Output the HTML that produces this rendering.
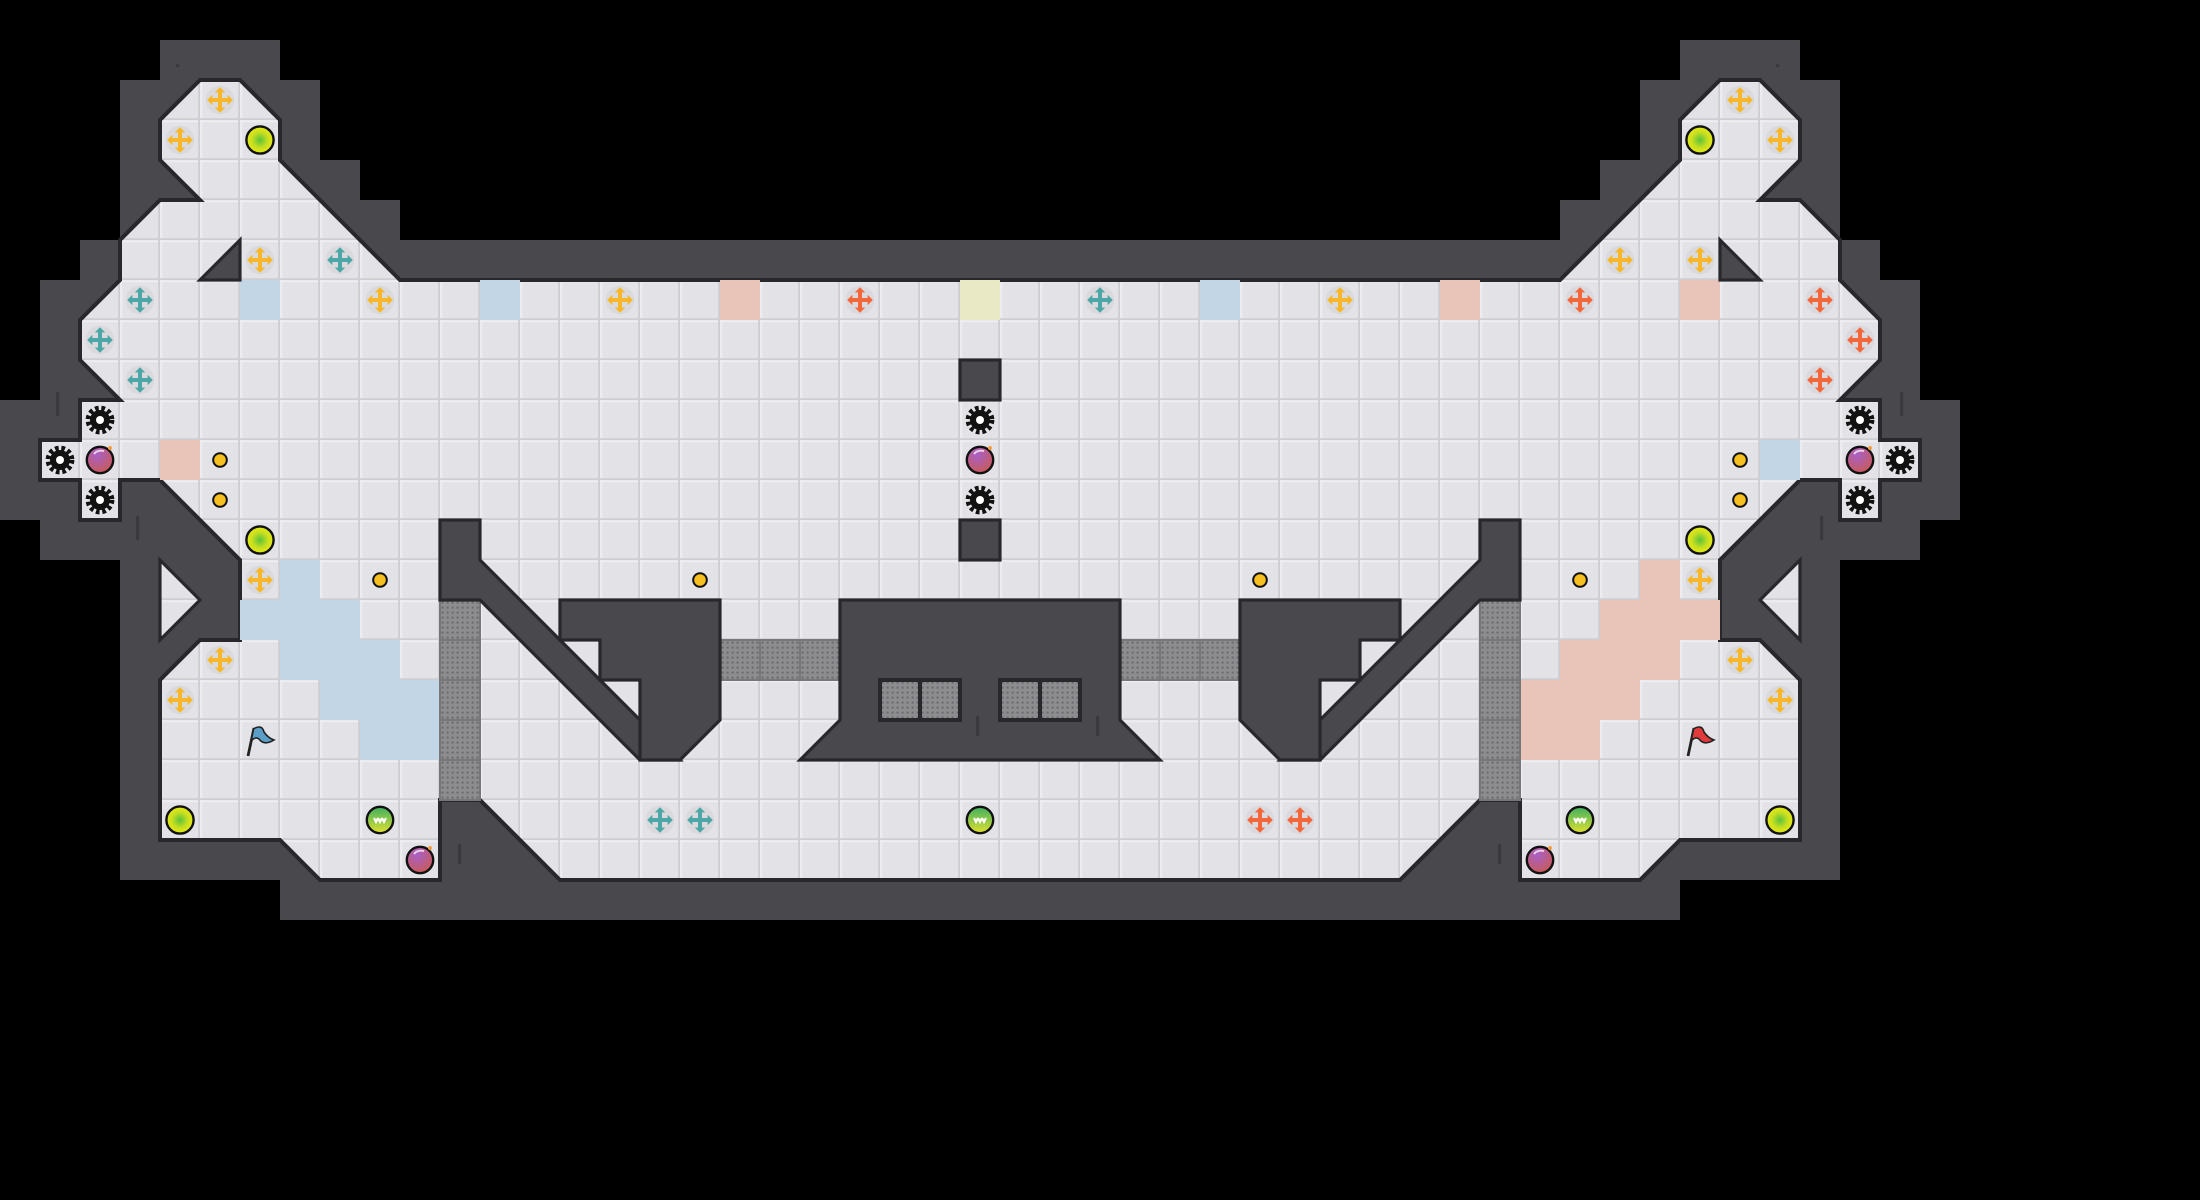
<!DOCTYPE html>
<html><head><meta charset="utf-8"><style>html,body{margin:0;padding:0;background:#000;}svg{display:block;}</style></head>
<body>
<svg xmlns="http://www.w3.org/2000/svg" width="2200" height="1200" viewBox="0 0 55 30">
<defs>
<pattern id="fl" width="1" height="1" patternUnits="userSpaceOnUse">
<rect width="1" height="1" fill="#e3e3e7"/>
<path d="M0 .03H1M.03 0V1" stroke="#eeeef1" stroke-width=".05"/>
<path d="M0 .98H1M.98 0V1" stroke="#cdcdd2" stroke-width=".05"/>
</pattern>
<pattern id="gt" width=".125" height=".125" patternUnits="userSpaceOnUse">
<rect width=".125" height=".125" fill="#8d8d90"/>
<rect x=".04" y=".04" width=".05" height=".05" fill="#6a6a6e"/>
</pattern>
<radialGradient id="gp" cx=".5" cy=".5" r=".5"><stop offset="0" stop-color="#5fc23a"/><stop offset=".6" stop-color="#c8e020"/><stop offset="1" stop-color="#e8ea10"/></radialGradient>
<radialGradient id="bm" cx=".4" cy=".3" r=".7"><stop offset="0" stop-color="#a860c8"/><stop offset="1" stop-color="#c85a5a"/></radialGradient>
<linearGradient id="tt" x1="0" y1="0" x2="0" y2="1"><stop offset="0" stop-color="#3fb060"/><stop offset="1" stop-color="#e0e030"/></linearGradient>
<g id="bp"><circle r=".36" fill="#d9d9de"/><path d="M-.32 0L-.19-.13V-.05H-.05V-.19H-.13L0-.32L.13-.19H.05V-.05H.19V-.13L.32 0L.19 .13V.05H.05V.19H.13L0 .32L-.13 .19H-.05V.05H-.19V.13Z"/></g>
<g id="pu"><circle r=".34" fill="url(#gp)" stroke="#111" stroke-width=".06"/></g>
<g id="bo"><circle r=".33" fill="url(#bm)" stroke="#111" stroke-width=".06"/><path d="M-.15-.15A.22 .22 0 0 1 .1-.22" stroke="#fff" stroke-width=".05" fill="none" opacity=".7"/><circle cx=".25" cy="-.3" r=".05" fill="#f0a040"/></g>
<g id="sp"><circle r=".25" fill="#111"/><circle r=".3" fill="none" stroke="#111" stroke-width=".12" stroke-dasharray=".09 .07"/><circle r=".1" fill="#fff"/></g>
<g id="dt"><circle r=".17" fill="#f5c020" stroke="#111" stroke-width=".05"/></g>
<g id="tb"><circle r=".33" fill="url(#tt)" stroke="#111" stroke-width=".06"/><path d="M-.15-.05L-.1 .05L-.05-.05M-.05-.05L0 .05L.05-.05M.05-.05L.1 .05L.15-.05" stroke="#fff" stroke-width=".05" fill="none"/></g>
<g id="gate"><rect width="1" height="1" fill="url(#gt)"/><rect width="1" height="1" fill="none" stroke="#77777a" stroke-width=".05"/></g>
</defs>
<rect width="55" height="30" fill="#000"/>
<!-- outer wall hull (stepped) -->
<polygon points="7,23 7,22 3,22 3,14 1,14 1,13 0,13 0,10 1,10 1,7 2,7 2,6 3,6 3,2 4,2 4,1 7,1 7,2 8,2 8,4 9,4 9,5 10,5 10,6 39,6 39,5 40,5 40,4 41,4 41,2 42,2 42,1 45,1 45,2 46,2 46,6 47,6 47,7 48,7 48,10 49,10 49,13 48,13 48,14 46,14 46,22 42,22 42,23" fill="#48484d"/>
<!-- floor -->
<polygon points="10,7 7,4 7,3 6,2 5,2 4,3 4,4 5,5 4,5 3,6 3,7 2,8 2,9 3,10 2,10 2,11 1,11 1,12 2,12 2,13 3,13 3,12 4,12 6,14 6,16 5,16 4,17 4,21 7,21 8,22 11,22 11,20 12,20 14,22 35,22 37,20 38,20 38,22 41,22 42,21 45,21 45,17 44,16 43,16 43,14 45,12 46,12 46,13 47,13 47,12 48,12 48,11 47,11 47,10 46,10 47,9 47,8 46,7 46,6 45,5 44,5 45,4 45,3 44,2 43,2 42,3 42,4 39,7" fill="url(#fl)" stroke="#28282c" stroke-width=".1"/>
<polygon points="4,14 5,15 4,16" fill="url(#fl)" stroke="#28282c" stroke-width=".08"/>
<polygon points="45,14 44,15 45,16" fill="url(#fl)" stroke="#28282c" stroke-width=".08"/>
<!-- colored tiles -->
<g fill="#c3d6e5">
<rect x="6" y="7" width="1" height="1"/><rect x="12" y="7" width="1" height="1"/><rect x="30" y="7" width="1" height="1"/><rect x="44" y="11" width="1" height="1"/>
<rect x="7" y="14" width="1" height="1"/><rect x="6" y="15" width="3" height="1"/><rect x="7" y="16" width="3" height="1"/><rect x="8" y="17" width="3" height="1"/><rect x="9" y="18" width="2" height="1"/>
</g>
<g fill="#e8c5b8">
<rect x="18" y="7" width="1" height="1"/><rect x="36" y="7" width="1" height="1"/><rect x="42" y="7" width="1" height="1"/><rect x="4" y="11" width="1" height="1"/>
<rect x="41" y="14" width="1" height="1"/><rect x="40" y="15" width="3" height="1"/><rect x="39" y="16" width="3" height="1"/><rect x="38" y="17" width="3" height="1"/><rect x="38" y="18" width="2" height="1"/>
</g>
<rect x="24" y="7" width="1" height="1" fill="#e9e9c6"/>
<!-- gates -->
<g>
<use href="#gate" x="11" y="15"/><use href="#gate" x="11" y="16"/><use href="#gate" x="11" y="17"/><use href="#gate" x="11" y="18"/><use href="#gate" x="11" y="19"/>
<use href="#gate" x="37" y="15"/><use href="#gate" x="37" y="16"/><use href="#gate" x="37" y="17"/><use href="#gate" x="37" y="18"/><use href="#gate" x="37" y="19"/>
<use href="#gate" x="18" y="16"/><use href="#gate" x="19" y="16"/><use href="#gate" x="20" y="16"/>
<use href="#gate" x="28" y="16"/><use href="#gate" x="29" y="16"/><use href="#gate" x="30" y="16"/>
</g>
<!-- interior walls -->
<g fill="#48484d" stroke="#28282c" stroke-width=".08" stroke-linejoin="miter">
<g>
<polygon points="5,7 6,6 6,7"/>
<polygon points="11,13 12,13 12,14 16,18 17,19 16,19 12,15 11,15"/>
<polygon points="14,15 18,15 18,18 17,19 16,19 16,17 15,17 15,16 14,16"/>
</g>
<g transform="matrix(-1 0 0 1 49 0)">
<polygon points="5,7 6,6 6,7"/>
<polygon points="11,13 12,13 12,14 16,18 17,19 16,19 12,15 11,15"/>
<polygon points="14,15 18,15 18,18 17,19 16,19 16,17 15,17 15,16 14,16"/>
</g>
<polygon points="21,15 28,15 28,18 29,19 20,19 21,18"/>
<rect x="24" y="9" width="1" height="1"/>
<rect x="24" y="13" width="1" height="1"/>
</g>
<g fill="#3a3a3e"><rect x="11.45" y="21.1" width=".08" height=".5"/><rect x="37.45" y="21.1" width=".08" height=".5"/><rect x="24.4" y="17.9" width=".08" height=".5"/><rect x="27.4" y="17.9" width=".08" height=".5"/><rect x="1.4" y="9.8" width=".08" height=".6"/><rect x="3.4" y="12.9" width=".08" height=".6"/><rect x="47.5" y="9.8" width=".08" height=".6"/><rect x="45.5" y="12.9" width=".08" height=".6"/><rect x="4.4" y="1.6" width=".08" height=".08"/><rect x="44.4" y="1.6" width=".08" height=".08"/></g>
<!-- center pockets -->
<g stroke="#28282c" stroke-width=".1">
<rect x="22" y="17" width="1" height="1" fill="url(#gt)"/><rect x="23" y="17" width="1" height="1" fill="url(#gt)"/>
<rect x="25" y="17" width="1" height="1" fill="url(#gt)"/><rect x="26" y="17" width="1" height="1" fill="url(#gt)"/>
</g>
<!-- yellow boosts -->
<g fill="#f6b82a">
<use href="#bp" x="5.5" y="2.5"/><use href="#bp" x="4.5" y="3.5"/><use href="#bp" x="6.5" y="6.5"/><use href="#bp" x="9.5" y="7.5"/><use href="#bp" x="15.5" y="7.5"/><use href="#bp" x="6.5" y="14.5"/><use href="#bp" x="5.5" y="16.5"/><use href="#bp" x="4.5" y="17.5"/>
<use href="#bp" x="43.5" y="2.5"/><use href="#bp" x="44.5" y="3.5"/><use href="#bp" x="40.5" y="6.5"/><use href="#bp" x="42.5" y="6.5"/><use href="#bp" x="33.5" y="7.5"/><use href="#bp" x="42.5" y="14.5"/><use href="#bp" x="43.5" y="16.5"/><use href="#bp" x="44.5" y="17.5"/>
</g>
<g fill="#4ea7a6">
<use href="#bp" x="8.5" y="6.5"/><use href="#bp" x="3.5" y="7.5"/><use href="#bp" x="2.5" y="8.5"/><use href="#bp" x="3.5" y="9.5"/><use href="#bp" x="27.5" y="7.5"/><use href="#bp" x="16.5" y="20.5"/><use href="#bp" x="17.5" y="20.5"/>
</g>
<g fill="#f2683c">
<use href="#bp" x="21.5" y="7.5"/><use href="#bp" x="39.5" y="7.5"/><use href="#bp" x="45.5" y="7.5"/><use href="#bp" x="46.5" y="8.5"/><use href="#bp" x="45.5" y="9.5"/><use href="#bp" x="31.5" y="20.5"/><use href="#bp" x="32.5" y="20.5"/>
</g>
<!-- powerups -->
<use href="#pu" x="6.5" y="3.5"/><use href="#pu" x="6.5" y="13.5"/><use href="#pu" x="4.5" y="20.5"/>
<use href="#pu" x="42.5" y="3.5"/><use href="#pu" x="42.5" y="13.5"/><use href="#pu" x="44.5" y="20.5"/>
<use href="#tb" x="9.5" y="20.5"/><use href="#tb" x="24.5" y="20.5"/><use href="#tb" x="39.5" y="20.5"/>
<!-- bombs -->
<use href="#bo" x="2.5" y="11.5"/><use href="#bo" x="24.5" y="11.5"/><use href="#bo" x="46.5" y="11.5"/><use href="#bo" x="10.5" y="21.5"/><use href="#bo" x="38.5" y="21.5"/>
<!-- spikes -->
<use href="#sp" x="2.5" y="10.5"/><use href="#sp" x="1.5" y="11.5"/><use href="#sp" x="2.5" y="12.5"/>
<use href="#sp" x="24.5" y="10.5"/><use href="#sp" x="24.5" y="12.5"/>
<use href="#sp" x="46.5" y="10.5"/><use href="#sp" x="47.5" y="11.5"/><use href="#sp" x="46.5" y="12.5"/>
<!-- dots -->
<use href="#dt" x="5.5" y="11.5"/><use href="#dt" x="5.5" y="12.5"/><use href="#dt" x="9.5" y="14.5"/><use href="#dt" x="17.5" y="14.5"/><use href="#dt" x="31.5" y="14.5"/><use href="#dt" x="39.5" y="14.5"/><use href="#dt" x="43.5" y="11.5"/><use href="#dt" x="43.5" y="12.5"/>
<!-- flags -->
<g transform="translate(6.5 18.5)"><path d="M-.3 .4L-.15-.3" stroke="#222" stroke-width=".07"/><path d="M-.16-.28Q.05-.4 .1-.2Q.2-.05 .35 0Q.1 .15-.02-.02Q-.1-.1-.22 .02Z" fill="#5b9fc8" stroke="#222" stroke-width=".04"/></g>
<g transform="translate(42.5 18.5)"><path d="M-.3 .4L-.15-.3" stroke="#222" stroke-width=".07"/><path d="M-.16-.28Q.05-.4 .1-.2Q.2-.05 .35 0Q.1 .15-.02-.02Q-.1-.1-.22 .02Z" fill="#e03a3a" stroke="#222" stroke-width=".04"/></g>
</svg>
</body></html>
